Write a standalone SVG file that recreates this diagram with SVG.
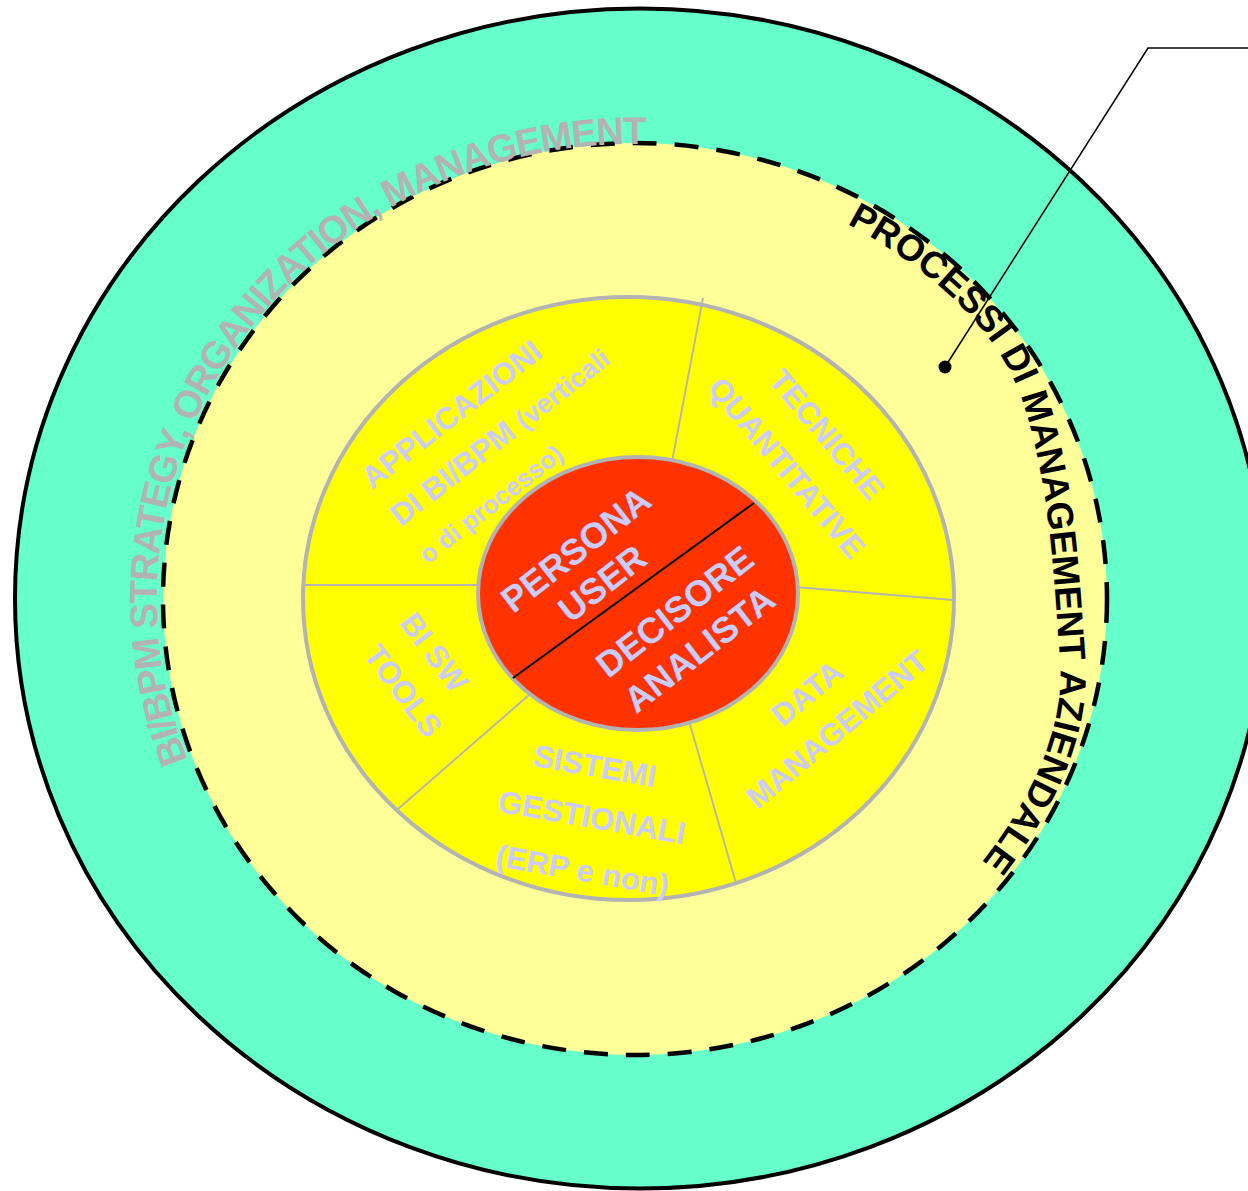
<svg xmlns="http://www.w3.org/2000/svg" width="1248" height="1191" viewBox="0 0 1248 1191">
<style>
  .lbl { font-family: "Liberation Sans", Arial, sans-serif; font-weight: bold; fill: #ccccff; font-size: 31px; text-anchor: middle; }
  .core { font-size: 36px; }
  .small { font-size: 25.5px; }
  .mid { font-size: 27px; }
  .start { text-anchor: start; }
  .seg { stroke: #b3b3b3; stroke-width: 1.8; fill: none; }
  .curve-gray { font-family: "Liberation Sans", Arial, sans-serif; font-weight: bold; fill: #b3b3b3; font-size: 38.5px; letter-spacing: -1.4px; }
  .curve-black { font-family: "Liberation Sans", Arial, sans-serif; font-weight: bold; fill: #000000; font-size: 37px; }
</style>
<defs>
  <path id="arcOuter" d="M 187.8,760 A 478 455 0 0 1 718,150.9"/>
  <path id="arcProc" d="M 847,224 C 921.2,263.4 997,323.1 1023,403 C 1049.9,485.7 1053.9,575.2 1060,662 C 1065,733.8 1026.3,805.3 982,862 L 963,886"/>
</defs>
<rect width="1248" height="1191" fill="#ffffff"/>

<g id="outer-ring">
  <ellipse cx="640" cy="598.5" rx="625" ry="590" fill="#66ffcc" stroke="#000000" stroke-width="4"/>
</g>

<g id="management-processes">
  <ellipse cx="635" cy="599" rx="472" ry="456" fill="#ffff99" stroke="#000000" stroke-width="4.5" stroke-dasharray="24 18"/>
</g>

<g id="label-strategy">
  <text class="curve-gray"><textPath href="#arcOuter">BI/BPM STRATEGY, ORGANIZATION, MANAGEMENT</textPath></text>
</g>

<g id="label-processi">
  <text class="curve-black"><textPath href="#arcProc">PROCESSI DI MANAGEMENT AZIENDALE</textPath></text>
</g>

<g id="wheel">
  <ellipse cx="628.5" cy="598.5" rx="325.5" ry="301.5" fill="#ffff00" stroke="#b3b3b3" stroke-width="4"/>
  <line class="seg" x1="703" y1="298" x2="672" y2="462"/>
  <line class="seg" x1="304" y1="585" x2="482" y2="585"/>
  <line class="seg" x1="795" y1="587" x2="953" y2="600"/>
  <line class="seg" x1="529" y1="695" x2="398" y2="809"/>
  <line class="seg" x1="687" y1="714" x2="736" y2="883"/>
</g>

<g id="node-applicazioni">
  <g transform="translate(372,490) rotate(-38)">
    <text class="lbl start" x="0" y="0">APPLICAZIONI</text>
    <text class="lbl start" x="0" y="47">DI BI/BPM <tspan class="mid">(verticali</tspan></text>
    <text class="lbl start small" x="-2" y="93">o di processo)</text>
  </g>
</g>

<g id="node-tecniche">
  <g transform="translate(807,451) rotate(50)">
    <text class="lbl" x="0" y="-15">TECNICHE</text>
    <text class="lbl" x="0" y="37">QUANTITATIVE</text>
  </g>
</g>

<g id="node-bisw">
  <g transform="translate(419,671.5) rotate(53)">
    <text class="lbl" x="-6" y="-13">BI SW</text>
    <text class="lbl" x="6" y="35">TOOLS</text>
  </g>
</g>

<g id="node-sistemi">
  <g transform="translate(592,817) rotate(10)">
    <text class="lbl" x="-6" y="-40">SISTEMI</text>
    <text class="lbl" x="0" y="11">GESTIONALI</text>
    <text class="lbl" x="0" y="65">(ERP e non)</text>
  </g>
</g>

<g id="node-data">
  <g transform="translate(822,711) rotate(-40)">
    <text class="lbl" x="0" y="-12.5">DATA</text>
    <text class="lbl" x="0" y="34.5">MANAGEMENT</text>
  </g>
</g>

<g id="node-core">
  <ellipse cx="638" cy="593.5" rx="160" ry="136.5" fill="#ff3300" stroke="#b3b3b3" stroke-width="4"/>
  <line x1="513" y1="678" x2="754" y2="503" stroke="#000000" stroke-width="2"/>
  <g transform="translate(589,566.5) rotate(-38)">
    <text class="lbl core" x="0" y="-9">PERSONA</text>
    <text class="lbl core" x="0" y="34">USER</text>
  </g>
  <g transform="translate(687,630.5) rotate(-38)">
    <text class="lbl core" x="2" y="-10">DECISORE</text>
    <text class="lbl core" x="-2" y="35">ANALISTA</text>
  </g>
</g>

<g id="connectors">
  <polyline points="1248,48 1148,48 945,367" fill="none" stroke="#000000" stroke-width="1.5"/>
  <circle cx="945" cy="367" r="6.5" fill="#000000"/>
</g>
</svg>
